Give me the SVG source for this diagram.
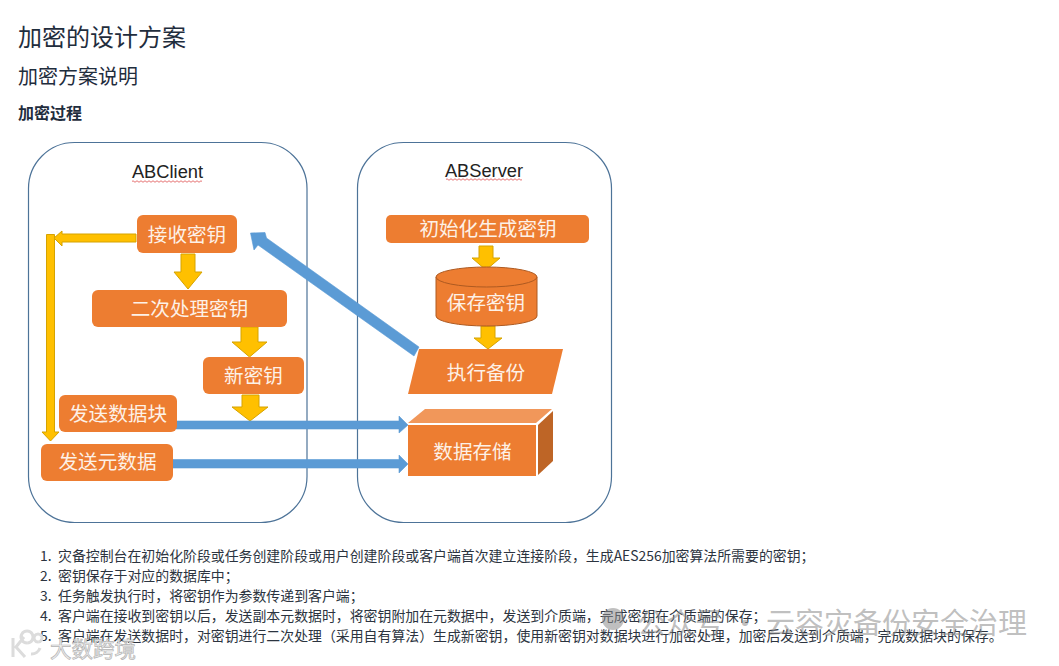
<svg xmlns="http://www.w3.org/2000/svg" width="1059" height="666" viewBox="0 0 1059 666">
<style>
text{font-family:"Noto Sans CJK SC","Liberation Sans",sans-serif}
.h{fill:#1f2d3d}
.li{font-size:13.9px;fill:#2c3440}
.box{fill:#ed7d31}
.t{font-size:19.600px;fill:#fdf1e7;text-anchor:middle}
.c{fill:#fff;stroke:#4d7398;stroke-width:1.2}
.lb{font-family:"Liberation Sans",sans-serif;font-size:18.300px;fill:#222;text-anchor:middle}
.sq{fill:none;stroke:#e05050;stroke-width:.8}
.y{fill:#ffc000;stroke:#d6a300;stroke-width:1}
.b{fill:#5b9bd5;stroke:#5b9bd5;stroke-width:.6}
.wm{fill:#8a8a8a;fill-opacity:.55}
</style>
<rect width="1059" height="666" fill="#fff"/>
<g id="headings">
<text class="h" x="18" y="46" font-size="24">加密的设计方案</text>
<text class="h" x="18" y="84" font-size="20">加密方案说明</text>
<text class="h" x="18" y="119" font-size="16" font-weight="700">加密过程</text>
</g>
<g id="client">
<rect class="c" x="28.5" y="142.5" width="278.500" height="380" rx="46"/>
<text class="lb" x="167.500" y="178">ABClient</text>
<path class="sq" d="M132 181.500q1-1.500 2 0t2 0 2 0 2 0 2 0 2 0 2 0 2 0 2 0 2 0 2 0 2 0 2 0 2 0 2 0 2 0 2 0 2 0 2 0 2 0 2 0 2 0 2 0 2 0 2 0 2 0 2 0 2 0 2 0 2 0 2 0 2 0 2 0 2 0 2 0"/>
</g>
<g id="server">
<rect class="c" x="357.500" y="142.500" width="254" height="380" rx="46"/>
<text class="lb" x="484" y="177">ABServer</text>
<path class="sq" d="M446 179.500q1-1.500 2 0t2 0 2 0 2 0 2 0 2 0 2 0 2 0 2 0 2 0 2 0 2 0 2 0 2 0 2 0 2 0 2 0 2 0 2 0 2 0 2 0 2 0 2 0 2 0 2 0 2 0 2 0 2 0 2 0 2 0 2 0 2 0 2 0 2 0 2 0 2 0 2 0 2 0"/>
</g>
<g id="connectors">
<polygon class="y" points="136,234 62,234 62,231 54,238 62,246 62,242 136,242"/>
<polygon class="y" points="46.500,234.500 54.500,234.500 54.500,432 59,432 50.500,441 42,432 46.500,432"/>
<polygon class="y" points="181,254 195,254 195,272 202,272 188,289 174,272 181,272"/>
<polygon class="y" points="241,327 258,327 258,342 267,342 249.500,357 232,342 241,342"/>
<polygon class="y" points="242,395 259,395 259,407 268,407 250,421 232,407 242,407"/>
<polygon class="y" points="479,246 493,246 493,258 500,258 486,270 472,258 479,258"/>
<polygon class="y" points="481,326 495,326 495,338 502,338 488,349 474,338 481,338"/>
<polygon class="b" points="250.500,233 265,232.500 266.500,238 419,347 414,356 258,245 254,250"/>
<polygon class="b" points="176,421 399,421 399,416 408,425 399,433 399,429 176,429"/>
<polygon class="b" points="173,459.500 399,459.500 399,455 408,464 399,473 399,468 173,468"/>
</g>
<g id="n-receive"><rect class="box" x="137" y="215" width="100" height="38" rx="6"/><text class="t" x="187" y="242">接收密钥</text></g>
<g id="n-process"><rect class="box" x="92" y="290" width="195" height="37" rx="6"/><text class="t" x="189.500" y="316">二次处理密钥</text></g>
<g id="n-newkey"><rect class="box" x="203" y="357" width="101" height="37" rx="6"/><text class="t" x="253.500" y="383">新密钥</text></g>
<g id="n-block"><rect class="box" x="59" y="395" width="118" height="37" rx="6"/><text class="t" x="118" y="421">发送数据块</text></g>
<g id="n-meta"><rect class="box" x="41" y="444" width="132" height="37" rx="6"/><text class="t" x="107.500" y="469">发送元数据</text></g>
<g id="n-init"><rect class="box" x="386" y="215" width="203" height="28" rx="5"/><text class="t" x="488" y="236">初始化生成密钥</text></g>
<g id="n-store"><path class="box" stroke="#ae5a21" d="M436 277v39a50.500 10 0 0 0 101 0v-39z"/><ellipse class="box" stroke="#ae5a21" cx="486.500" cy="277" rx="50.500" ry="10"/><text class="t" x="486" y="310">保存密钥</text></g>
<g id="n-backup"><polygon class="box" points="419,349 563,349 552,394 408,394"/><text class="t" x="486" y="380">执行备份</text></g>
<g id="n-storage"><polygon class="box" points="408,425 536,425 536,476 408,476"/><polygon points="408,423 425,409 552,409 536,423" fill="#f1975a"/><polygon points="538,425 553,411 553,461 538,475" fill="#be6526"/><text class="t" x="472.500" y="459">数据存储</text></g>
<g id="list">
<text class="li" x="40" y="561">1.</text><text class="li" x="58" y="561">灾备控制台在初始化阶段或任务创建阶段或用户创建阶段或客户端首次建立连接阶段，生成AES256加密算法所需要的密钥；</text>
<text class="li" x="40" y="581">2.</text><text class="li" x="58" y="581">密钥保存于对应的数据库中；</text>
<text class="li" x="40" y="601">3.</text><text class="li" x="58" y="601">任务触发执行时，将密钥作为参数传递到客户端；</text>
<text class="li" x="40" y="621">4.</text><text class="li" x="58" y="621">客户端在接收到密钥以后，发送副本元数据时，将密钥附加在元数据中，发送到介质端，完成密钥在介质端的保存；</text>
<text class="li" x="40" y="641">5.</text><text class="li" x="58" y="641">客户端在发送数据时，对密钥进行二次处理（采用自有算法）生成新密钥，使用新密钥对数据块进行加密处理，加密后发送到介质端，完成数据块的保存。</text>
</g>
<g id="watermark">
<circle class="wm" cx="613" cy="619" r="11"/>
<text class="wm" x="637" y="634" font-size="29">公众号 · 云容灾备份安全治理</text>
<path d="M13 638v19M24 637l-8 10 9 10M31 654a9 9 0 0 0 9-6M27 643a6 6 0 1 1 .1 0M38 642a4 4 0 1 1 .1 0" fill="none" stroke="#dcdcdc" stroke-width="3"/>
<text x="50" y="657" font-size="21.500" fill="#efefef" stroke="#b4b4b4" stroke-width=".7">大数跨境</text>
</g>
</svg>
